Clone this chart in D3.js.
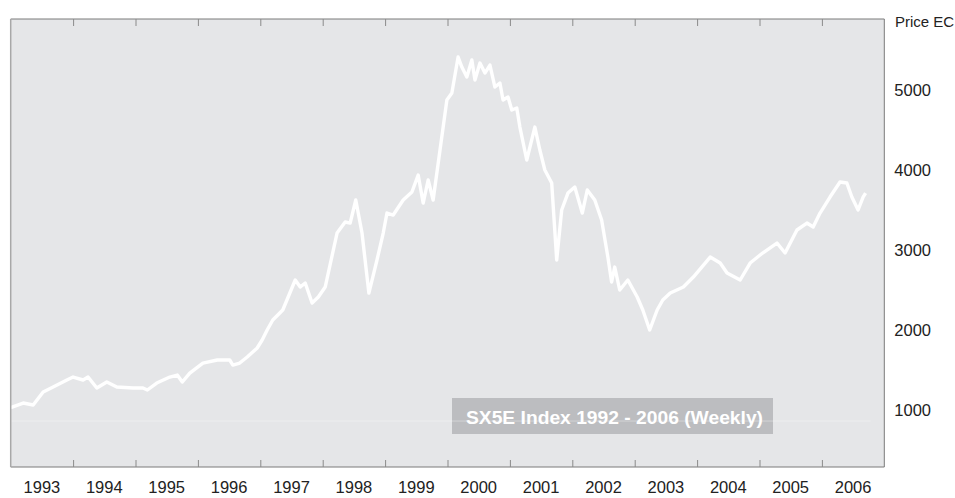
<!DOCTYPE html>
<html>
<head>
<meta charset="utf-8">
<script src="https://cdn.jsdelivr.net/npm/d3@7"></script>
<style>
  body { margin: 0; background: #ffffff; }
  svg { display: block; }
  text { font-family: "Liberation Sans", Arial, Helvetica, sans-serif; fill: #222; }
</style>
</head>
<body>
<svg id="chart" width="955" height="498"></svg>
<script>
// ---- data (decimal year, index level) ----
const times = [1993.00,1993.20,1993.36,1993.52,1993.68,1993.90,1994.00,1994.16,1994.24,1994.38,
  1994.54,1994.70,1994.96,1995.12,1995.19,1995.34,1995.55,1995.67,1995.75,1995.87,
  1996.08,1996.31,1996.51,1996.56,1996.67,1996.79,1996.95,1997.03,1997.11,1997.20,
  1997.36,1997.56,1997.64,1997.72,1997.83,1997.93,1998.04,1998.23,1998.36,1998.44,
  1998.53,1998.63,1998.74,1998.87,1998.97,1999.03,1999.13,1999.29,1999.43,1999.53,
  1999.61,1999.69,1999.77,1999.88,1999.99,2000.07,2000.17,2000.23,2000.31,2000.39,
  2000.44,2000.52,2000.60,2000.68,2000.76,2000.84,2000.89,2000.97,2001.03,2001.11,
  2001.16,2001.27,2001.40,2001.48,2001.56,2001.67,2001.75,2001.83,2001.93,2002.04,
  2002.16,2002.24,2002.36,2002.47,2002.57,2002.63,2002.68,2002.76,2002.89,2003.04,
  2003.13,2003.24,2003.36,2003.45,2003.57,2003.78,2003.94,2004.21,2004.37,2004.48,
  2004.69,2004.85,2005.05,2005.28,2005.41,2005.60,2005.76,2005.86,2005.97,2006.13,
  2006.29,2006.40,2006.48,2006.58,2006.66,2006.70];
const values = [1030,1087,1062,1225,1287,1375,1412,1375,1412,1275,
  1350,1287,1275,1275,1250,1337,1412,1437,1350,1462,
  1587,1625,1625,1562,1587,1662,1775,1875,2000,2125,
  2250,2625,2537,2587,2337,2412,2537,3212,3350,3337,
  3625,3212,2462,2875,3212,3462,3437,3625,3725,3937,
  3587,3875,3625,4250,4875,4962,5412,5287,5162,5375,
  5125,5337,5212,5312,5037,5087,4875,4912,4750,4775,
  4537,4125,4537,4250,4000,3837,2875,3500,3712,3787,
  3462,3750,3625,3375,2912,2600,2787,2500,2625,2412,
  2250,2000,2250,2375,2462,2537,2662,2912,2837,2712,
  2625,2837,2962,3087,2962,3250,3337,3287,3462,3662,
  3850,3837,3662,3500,3662,3712];
const yearTicks = [1994,1995,1996,1997,1998,1999,2000,2001,2002,2003,2004,2005,2006];
const yearLabels = ["1993","1994","1995","1996","1997","1998","1999","2000","2001","2002","2003","2004","2005","2006"];
const priceTicks = [1000,2000,3000,4000,5000];
const axisTitle = "Price EC";
const legendText = "SX5E Index 1992 - 2006 (Weekly)";
const refLevel = 862;

// ---- layout ----
const L = 10.7, R = 884.3, T = 19, B = 467;
const svg = d3.select("#chart");
const x = d3.scaleLinear().domain([1993, 2007]).range([L, R]);
const y = d3.scaleLinear().domain([287.5, 5887.5]).range([B, T]);

// plot background
svg.append("rect").attr("x", L).attr("y", T).attr("width", R - L).attr("height", B - T)
  .attr("fill", "#e5e6e8");

// defs: clip + soft blur
const defs = svg.append("defs");
defs.append("clipPath").attr("id", "clip").append("rect")
  .attr("x", L).attr("y", T).attr("width", R - L).attr("height", B - T);
defs.append("filter").attr("id", "soft").attr("x", "-5%").attr("y", "-5%").attr("width", "110%").attr("height", "110%")
  .append("feGaussianBlur").attr("stdDeviation", 0.7);

// legend box
const lg = svg.append("g");
lg.append("rect").attr("x", 452).attr("y", 398).attr("width", 321).attr("height", 36).attr("fill", "#bcbdc0");
lg.append("text").attr("x", 466).attr("y", 424).text(legendText)
  .style("fill", "#ffffff").style("font-size", "19px").style("font-weight", "bold")
  .attr("textLength", 297).attr("lengthAdjust", "spacingAndGlyphs");

// faint reference line
svg.append("line").attr("x1", L).attr("x2", x(2006.78))
  .attr("y1", y(refLevel)).attr("y2", y(refLevel))
  .attr("stroke", "#ffffff").attr("stroke-opacity", 0.35).attr("stroke-width", 1);

// series line
const line = d3.line().x((d, i) => x(times[i])).y(d => y(d)).curve(d3.curveLinear);
svg.append("path").datum(values)
  .attr("clip-path", "url(#clip)")
  .attr("d", line)
  .attr("fill", "none").attr("stroke", "#ffffff").attr("stroke-width", 3.4)
  .attr("stroke-linejoin", "round").attr("filter", "url(#soft)");

// frame
const frame = svg.append("g").attr("fill", "none");
frame.append("line").attr("x1", L).attr("x2", R).attr("y1", T).attr("y2", T).attr("stroke", "#7a7a7a");
frame.append("line").attr("x1", L).attr("x2", R).attr("y1", B).attr("y2", B).attr("stroke", "#7a7a7a");
frame.append("line").attr("x1", R).attr("x2", R).attr("y1", T).attr("y2", B).attr("stroke", "#7a7a7a");
frame.append("line").attr("x1", L).attr("x2", L).attr("y1", T).attr("y2", B).attr("stroke", "#a8a8a8").attr("stroke-width", 1.5);

// year ticks (top & bottom, inward)
const topAxis = d3.axisBottom(x).tickValues(yearTicks).tickSize(7).tickFormat("");
const botAxis = d3.axisTop(x).tickValues(yearTicks).tickSize(7).tickFormat("");
const gt = svg.append("g").attr("transform", `translate(0,${T})`).call(topAxis);
const gb = svg.append("g").attr("transform", `translate(0,${B})`).call(botAxis);
[gt, gb].forEach(g => { g.select(".domain").remove(); g.selectAll("line").attr("stroke", "#8a8a8a"); });

// year labels centered in each year
svg.append("g").selectAll("text").data(yearLabels).join("text")
  .attr("x", d => x(+d + 0.5)).attr("y", 493)
  .attr("text-anchor", "middle").style("font-size", "16.5px").text(d => d);

// right price axis labels
const ra = d3.axisRight(y).tickValues(priceTicks).tickSize(0).tickPadding(10).tickFormat(d3.format("d"));
const gr = svg.append("g").attr("transform", `translate(${R},0)`).call(ra);
gr.select(".domain").remove();
gr.selectAll("text").style("font-size", "16.5px").style("fill", "#222")
  .style("font-family", '"Liberation Sans", Arial, sans-serif');

svg.append("text").attr("x", 895).attr("y", 27).style("font-size", "15px").text(axisTitle);
</script>
</body>
</html>
